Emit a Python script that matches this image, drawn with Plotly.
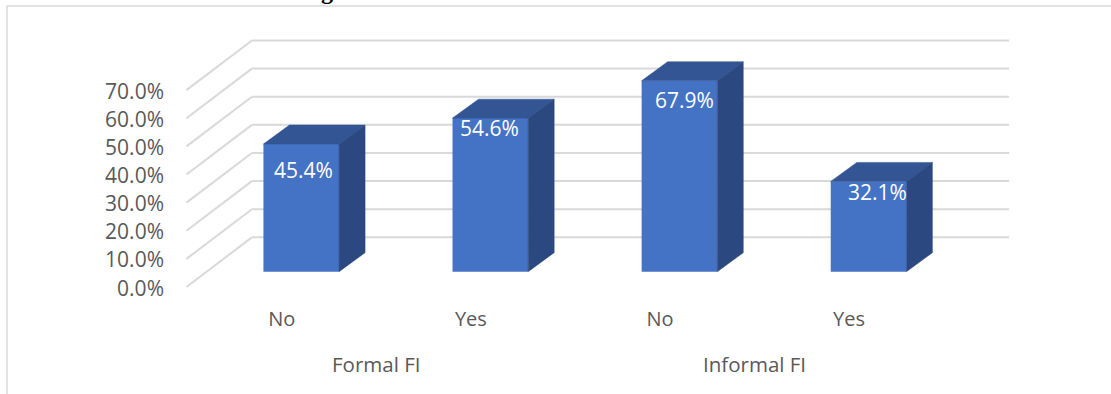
import plotly.graph_objects as go

# ---- data ----
tiers = ["No", "Yes", "No", "Yes"]
groups = ["Formal FI", "Informal FI"]
values = [45.4, 54.6, 67.9, 32.1]
y_ticks = [0, 10, 20, 30, 40, 50, 60, 70]
y_labels = ["0.0%", "10.0%", "20.0%", "30.0%", "40.0%", "50.0%", "60.0%", "70.0%"]

# ---- look & projection (axis units) ----
label_drop = [9.2, 3.6, 6.9, 3.9]
label_nudge = [0.011, -0.003, 0.024, 0.048]
W, H = 1111, 394
X_RANGE = [-1.593, 4.282]
Y_RANGE = [-43.5, 96.6]
BAR_W = 0.4
BAR_DX, BAR_DY = 0.1375, 6.75
FLOOR_FRONT_Y, FLOOR_BACK_Y = -5.44, 12.2
WALL_X0, WALL_X1, FRONT_X0 = -0.261, 3.743, -0.607
FRONT, TOP, SIDE = "#4472C4", "#335593", "#2B4880"
GRID, TEXT = "#D9D9D9", "#595959"
FONT = "Open Sans"
FS = 21

xs = list(range(len(values)))
fig = go.Figure()

fig.add_trace(go.Bar(x=xs, y=values, width=BAR_W, marker=dict(color=FRONT, line=dict(width=0)),
                     hoverinfo="skip", showlegend=False))

for x, v in zip(xs, values):
    l, r = x - BAR_W / 2, x + BAR_W / 2
    fig.add_trace(go.Scatter(
        x=[l, r, r + BAR_DX, l + BAR_DX, l], y=[v, v, v + BAR_DY, v + BAR_DY, v],
        mode="lines", fill="toself", fillcolor=TOP, line=dict(color=TOP, width=0.5),
        hoverinfo="skip", showlegend=False))
    fig.add_trace(go.Scatter(
        x=[r, r + BAR_DX, r + BAR_DX, r, r], y=[0, BAR_DY, v + BAR_DY, v, 0],
        mode="lines", fill="toself", fillcolor=SIDE, line=dict(color=SIDE, width=0.5),
        hoverinfo="skip", showlegend=False))

# invisible trace that keeps the shifted value axis alive
fig.add_trace(go.Scatter(x=[xs[0]] * len(y_ticks), y=y_ticks, yaxis="y2", mode="markers",
                         marker=dict(opacity=0), hoverinfo="skip", showlegend=False))

# gridlines: floor diagonal + back wall, drawn under the bars
for t in y_ticks:
    fig.add_shape(type="line", xref="x", yref="y", layer="below",
                  x0=FRONT_X0, y0=t + FLOOR_FRONT_Y, x1=WALL_X0, y1=t + FLOOR_BACK_Y,
                  line=dict(color=GRID, width=2))
    fig.add_shape(type="line", xref="x", yref="y", layer="below",
                  x0=WALL_X0, y0=t + FLOOR_BACK_Y, x1=WALL_X1, y1=t + FLOOR_BACK_Y,
                  line=dict(color=GRID, width=2))

# chart frame
fig.add_shape(type="line", xref="paper", yref="paper", x0=7 / W, y0=1 - 6 / H, x1=1, y1=1 - 6 / H,
              line=dict(color=GRID, width=1.5))
fig.add_shape(type="line", xref="paper", yref="paper", x0=7 / W, y0=0, x1=7 / W, y1=1 - 6 / H,
              line=dict(color=GRID, width=1.5))

# data labels
for x, v, d, n in zip(xs, values, label_drop, label_nudge):
    fig.add_annotation(x=x + n, y=v - d, text=f"{v:.1f}%", showarrow=False,
                       font=dict(family=FONT, size=FS, color="white"), xanchor="center", yanchor="middle")

# group labels
tick_shift = -0.103
for i, g in enumerate(groups):
    fig.add_annotation(x=(xs[2 * i] + xs[2 * i + 1]) / 2 + tick_shift, y=-33, text=g, showarrow=False,
                       font=dict(family=FONT, size=FS - 0.5, color=TEXT), xanchor="center", yanchor="middle")

# clipped remains of the caption above the chart
fig.add_annotation(xref="paper", yref="paper", x=327 / W, y=1 + 9 / H, text="<b>g</b>", showarrow=False,
                   font=dict(family="Liberation Serif", size=24, color="black"),
                   xanchor="center", yanchor="middle")

fig.update_layout(
    width=W, height=H, autosize=False,
    margin=dict(l=0, r=0, t=0, b=0),
    paper_bgcolor="white", plot_bgcolor="white",
    showlegend=False,
    xaxis=dict(range=X_RANGE, showgrid=False, zeroline=False, showline=False,
               tickmode="array", tickvals=[x + tick_shift for x in xs], ticktext=tiers,
               tickfont=dict(family=FONT, size=FS - 1, color=TEXT),
               anchor="free", position=0.225, ticks=""),
    yaxis=dict(range=Y_RANGE, showgrid=False, zeroline=False, showline=False, visible=False),
    yaxis2=dict(range=[Y_RANGE[0] - FLOOR_FRONT_Y + 0.45, Y_RANGE[1] - FLOOR_FRONT_Y + 0.45], overlaying="y",
                anchor="free", position=164 / W, side="left",
                showgrid=False, zeroline=False, showline=False, ticks="",
                tickmode="array", tickvals=y_ticks, ticktext=y_labels,
                tickfont=dict(family=FONT, size=FS, color=TEXT)),
)

fig.write_html("out.html", config=dict(displayModeBar=False),
               post_script="document.body.style.margin='0';document.body.style.overflow='hidden';")
